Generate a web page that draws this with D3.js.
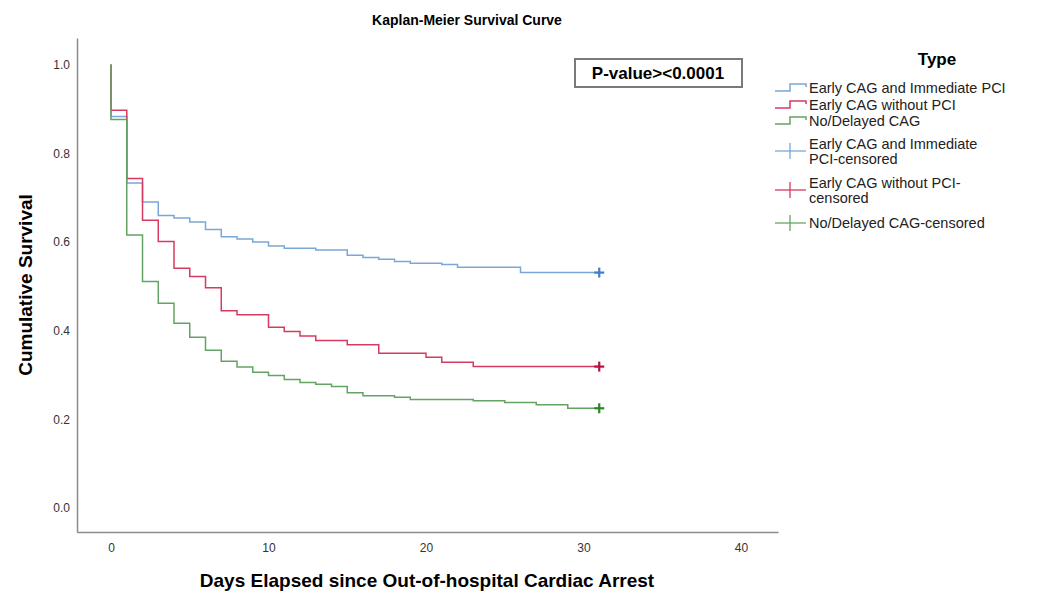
<!DOCTYPE html>
<html>
<head>
    <title>Kaplan-Meier Survival Curve</title>
    <script src="https://d3js.org/d3.v7.min.js"></script>
    <style>
        body { margin: 0; background: #fff; }
        text { font-family: "Liberation Sans", Arial, sans-serif; }
    </style>
</head>
<body>
    <div id="chart"></div>

    <script>
        // Data (days, cumulative survival at each step)
        var groups = ["Early CAG and Immediate PCI", "Early CAG without PCI", "No/Delayed CAG"];
        var daysPCI = [0, 1, 2, 3, 4, 5, 6, 7, 8, 9, 10, 11, 13, 15, 16, 17, 18, 19, 21, 22, 26];
        var survPCI = [0.883, 0.733, 0.690, 0.660, 0.654, 0.645, 0.628, 0.612, 0.607, 0.600, 0.591,
                       0.586, 0.582, 0.570, 0.565, 0.561, 0.556, 0.552, 0.549, 0.543, 0.531];
        var daysNoPCI = [0, 1, 2, 3, 4, 5, 6, 7, 8, 10, 11, 12, 13, 15, 17, 20, 21, 23];
        var survNoPCI = [0.897, 0.743, 0.649, 0.601, 0.541, 0.522, 0.497, 0.445, 0.436, 0.408,
                         0.398, 0.388, 0.378, 0.368, 0.349, 0.340, 0.329, 0.319];
        var daysNoCAG = [0, 1, 2, 3, 4, 5, 6, 7, 8, 9, 10, 11, 12, 13, 14, 15, 16, 18, 19, 23, 25, 27, 29];
        var survNoCAG = [0.876, 0.616, 0.511, 0.462, 0.417, 0.385, 0.356, 0.331, 0.318, 0.306, 0.299,
                         0.290, 0.283, 0.279, 0.274, 0.260, 0.253, 0.250, 0.245, 0.242, 0.238, 0.233, 0.225];
        var censorDay = 31;
        var xTicks = [0, 10, 20, 30, 40];
        var yTicks = [0, 0.2, 0.4, 0.6, 0.8, 1.0];

        var lineColors = ["#7aa7d8", "#d63a60", "#63a463"];
        var censorColors = ["#3f7fc6", "#b80f40", "#2a862a"];
        var legendLabels = [
            ["Early CAG and Immediate PCI"],
            ["Early CAG without PCI"],
            ["No/Delayed CAG"],
            ["Early CAG and Immediate", "PCI-censored"],
            ["Early CAG without PCI-", "censored"],
            ["No/Delayed CAG-censored"]
        ];

        var series = [
            { name: groups[0], days: daysPCI, surv: survPCI },
            { name: groups[1], days: daysNoPCI, surv: survNoPCI },
            { name: groups[2], days: daysNoCAG, surv: survNoCAG }
        ];

        var width = 1037, height = 595;

        var svg = d3.select("#chart")
            .append("svg")
            .attr("width", width)
            .attr("height", height);

        // Scales (axis lines run a little past the data range, as in SPSS)
        var x = d3.scaleLinear().domain([-2.16, 42.35]).range([77, 778]);
        var y = d3.scaleLinear().domain([-0.054, 1.06]).range([532, 38]);

        // Axes
        svg.append("g")
            .attr("transform", "translate(0,532)")
            .call(d3.axisBottom(x).tickValues(xTicks).tickSize(0).tickPadding(11).tickFormat(d3.format("d")));
        svg.append("g")
            .attr("transform", "translate(77,0)")
            .call(d3.axisLeft(y).tickValues(yTicks).tickSize(0).tickPadding(7).tickFormat(d3.format(".1f")));

        svg.selectAll(".domain").attr("stroke", "#8c8c8c").attr("stroke-width", 1.5);
        svg.selectAll(".tick text").attr("font-size", 12).attr("fill", "#333")
            .attr("font-family", "'Liberation Sans', Arial, sans-serif");

        // Step lines
        var line = d3.line()
            .x(function(d) { return x(d[0]); })
            .y(function(d) { return y(d[1]); })
            .curve(d3.curveStepAfter);

        series.forEach(function(s, i) {
            var pts = [[0, 1]];
            s.days.forEach(function(d, j) { pts.push([d, s.surv[j]]); });
            pts.push([censorDay, s.surv[s.surv.length - 1]]);
            svg.append("path")
                .datum(pts)
                .attr("fill", "none")
                .attr("stroke", lineColors[i])
                .attr("stroke-width", 1.5)
                .attr("d", line);
        });

        // Censor marks at the end of follow-up
        series.forEach(function(s, i) {
            var cx = x(censorDay), cy = y(s.surv[s.surv.length - 1]);
            var g = svg.append("g").attr("stroke", censorColors[i]).attr("stroke-width", 2.2);
            g.append("line").attr("x1", cx - 5).attr("x2", cx + 5).attr("y1", cy).attr("y2", cy);
            g.append("line").attr("x1", cx).attr("x2", cx).attr("y1", cy - 5).attr("y2", cy + 5);
        });

        // Title
        svg.append("text")
            .attr("x", 467).attr("y", 25)
            .attr("text-anchor", "middle")
            .attr("font-size", 14).attr("font-weight", "bold")
            .text("Kaplan-Meier Survival Curve");

        // Axis titles
        svg.append("text")
            .attr("x", 427).attr("y", 587)
            .attr("text-anchor", "middle")
            .attr("font-size", 19).attr("font-weight", "bold")
            .text("Days Elapsed since Out-of-hospital Cardiac Arrest");

        svg.append("text")
            .attr("transform", "translate(32,285) rotate(-90)")
            .attr("text-anchor", "middle")
            .attr("font-size", 19).attr("font-weight", "bold")
            .text("Cumulative Survival");

        // P-value box
        svg.append("rect")
            .attr("x", 575).attr("y", 59).attr("width", 167).attr("height", 28)
            .attr("fill", "#fff").attr("stroke", "#7a7a7a").attr("stroke-width", 2);
        svg.append("text")
            .attr("x", 658).attr("y", 79)
            .attr("text-anchor", "middle")
            .attr("font-size", 17).attr("font-weight", "bold")
            .text("P-value><0.0001");

        // Legend
        svg.append("text")
            .attr("x", 937).attr("y", 65)
            .attr("text-anchor", "middle")
            .attr("font-size", 17).attr("font-weight", "bold")
            .text("Type");

        var rowY = [88, 105, 121, 151, 190, 223];
        var lineGap = 15;
        legendLabels.forEach(function(lines, i) {
            var cy = rowY[i];
            var k = i % 3;
            if (i < 3) {
                svg.append("path")
                    .attr("d", "M775," + (cy + 3) + "H790V" + (cy - 4) + "H806V" + (cy - 1))
                    .attr("fill", "none").attr("stroke", lineColors[k]).attr("stroke-width", 1.5);
            } else {
                var g = svg.append("g").attr("stroke", lineColors[k]).attr("stroke-width", 1.3);
                g.append("line").attr("x1", 775).attr("x2", 806).attr("y1", cy).attr("y2", cy);
                g.append("line").attr("x1", 790).attr("x2", 790).attr("y1", cy - 8).attr("y2", cy + 8);
            }
            var t = svg.append("text")
                .attr("x", 809)
                .attr("font-size", 14.5)
                .attr("fill", "#222");
            var top = cy - (lines.length - 1) * lineGap / 2;
            lines.forEach(function(l, j) {
                t.append("tspan")
                    .attr("x", 809)
                    .attr("y", top + j * lineGap + 5)
                    .text(l);
            });
        });
    </script>
</body>
</html>
